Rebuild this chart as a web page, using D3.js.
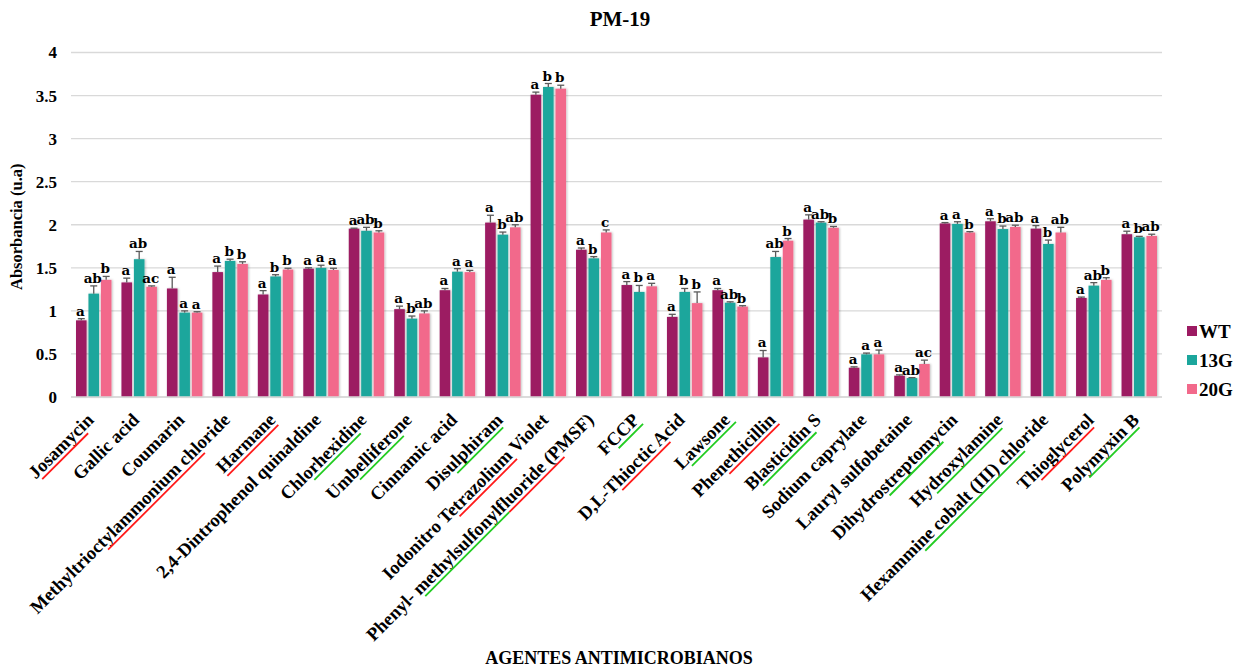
<!DOCTYPE html>
<html>
<head>
<meta charset="utf-8">
<script src="https://cdn.jsdelivr.net/npm/d3@7"></script>
<style>
  html, body { margin: 0; padding: 0; background: #fff; }
  svg { display: block; }
  text { font-family: "Liberation Serif", "Times New Roman", serif; font-weight: bold; fill: #000; }
  .sig { font-family: "DejaVu Serif", serif; font-size: 13.5px; }
</style>
</head>
<body>
<svg id="chart" width="1241" height="669"></svg>
<script>
// Antimicrobial agents tested on plate PM-19
const categories = [
  "Josamycin", "Gallic acid", "Coumarin", "Methyltrioctylammonium chloride", "Harmane",
  "2,4-Dintrophenol quinaldine", "Chlorhexidine", "Umbelliferone", "Cinnamic acid", "Disulphiram",
  "Iodonitro Tetrazolium Violet", "Phenyl- methylsulfonylfluoride (PMSF)", "FCCP", "D,L-Thioctic Acid",
  "Lawsone", "Phenethicillin", "Blasticidin S", "Sodium caprylate", "Lauryl sulfobetaine",
  "Dihydrostreptomycin", "Hydroxylamine", "Hexammine cobalt (III) chloride", "Thioglycerol", "Polymyxin B"
];

const seriesNames = ["WT", "13G", "20G"];

// Mean absorbance per strain
const wtValues  = [0.89, 1.33, 1.26, 1.45, 1.19, 1.49, 1.955, 1.02, 1.24, 2.025, 3.51, 1.71, 1.30, 0.93, 1.24, 0.46, 2.06, 0.34, 0.247, 2.015, 2.04, 1.955, 1.15, 1.89];
const g13Values = [1.20, 1.60, 0.98, 1.58, 1.40, 1.50, 1.93, 0.91, 1.455, 1.885, 3.60, 1.61, 1.22, 1.22, 1.095, 1.625, 2.025, 0.495, 0.22, 2.01, 1.95, 1.777, 1.293, 1.855];
const g20Values = [1.36, 1.28, 0.98, 1.545, 1.48, 1.475, 1.91, 0.97, 1.45, 1.97, 3.58, 1.91, 1.285, 1.09, 1.05, 1.815, 1.965, 0.495, 0.383, 1.91, 1.975, 1.91, 1.36, 1.87];

// Standard error (upper bar only)
const wtErrors  = [0.02, 0.05, 0.13, 0.07, 0.045, 0.01, 0.005, 0.035, 0.02, 0.085, 0.03, 0.02, 0.04, 0.03, 0.02, 0.08, 0.055, 0.01, 0.01, 0.01, 0.03, 0.035, 0.01, 0.035];
const g13Errors = [0.09, 0.09, 0.02, 0.02, 0.02, 0.03, 0.04, 0.03, 0.035, 0.03, 0.04, 0.02, 0.075, 0.04, 0.01, 0.065, 0.01, 0.015, 0.005, 0.025, 0.035, 0.045, 0.035, 0.01];
const g20Errors = [0.04, 0.01, 0.01, 0.025, 0.015, 0.02, 0.02, 0.03, 0.02, 0.03, 0.04, 0.03, 0.035, 0.13, 0.01, 0.025, 0.015, 0.05, 0.045, 0.01, 0.02, 0.06, 0.025, 0.02];

// Significance letters
const wtLetters  = ["a","a","a","a","a","a","a","a","a","a","a","a","a","a","a","a","a","a","a","a","a","a","a","a"];
const g13Letters = ["ab","ab","a","b","b","a","ab","b","a","b","b","b","b","b","ab","ab","ab","a","ab","a","b","b","ab","b"];
const g20Letters = ["b","ac","a","b","b","a","b","ab","a","ab","b","c","a","b","b","b","b","a","ac","b","ab","ab","b","ab"];

// Highlight strokes under category names: [category, start fraction, end fraction, colour]
const highlights = [
  ["Josamycin", 0.06, 0.84, "red"],
  ["Methyltrioctylammonium chloride", 0.35, 0.85, "red"],
  ["Harmane", 0.02, 0.98, "red"],
  ["Chlorhexidine", 0.30, 0.88, "green"],
  ["Umbelliferone", 0.30, 0.85, "green"],
  ["Disulphiram", 0.30, 0.95, "green"],
  ["Iodonitro Tetrazolium Violet", 0.42, 0.78, "red"],
  ["Phenyl- methylsulfonylfluoride (PMSF)", 0.22, 0.60, "green"],
  ["Phenyl- methylsulfonylfluoride (PMSF)", 0.60, 0.85, "red"],
  ["FCCP", 0.30, 1.0, "green"],
  ["D,L-Thioctic Acid", 0.34, 0.82, "red"],
  ["Lawsone", 0.15, 1.04, "green"],
  ["Phenethicillin", 0.35, 1.0, "red"],
  ["Blasticidin S", 0.12, 0.88, "green"],
  ["Dihydrostreptomycin", 0.40, 0.85, "green"],
  ["Hydroxylamine", 0.20, 0.95, "green"],
  ["Hexammine cobalt (III) chloride", 0.30, 0.85, "green"],
  ["Thioglycerol", 0.20, 0.95, "red"],
  ["Polymyxin B", 0.25, 0.95, "green"]
];

const yTicks = [0, 0.5, 1, 1.5, 2, 2.5, 3, 3.5, 4];
const colors = ["#9c1a62", "#1ba69c", "#f2698b"];

const svg = d3.select("#chart");

const plot = { left: 71, right: 1162, top: 52.5, bottom: 397 };

const x0 = d3.scaleBand().domain(categories).range([plot.left, plot.right]).paddingInner(0.22).paddingOuter(0.11);
const x1 = d3.scaleBand().domain(seriesNames).range([0, x0.bandwidth()]).paddingInner(0.15);
const y = d3.scaleLinear().domain([0, 4]).range([plot.bottom, plot.top]);
const color = d3.scaleOrdinal().domain(seriesNames).range(colors);

const defs = svg.append("defs");
const shadow = defs.append("filter").attr("id", "shadow").attr("x", "-30%").attr("y", "-10%").attr("width", "160%").attr("height", "120%");
shadow.append("feDropShadow").attr("dx", 1).attr("dy", 0).attr("stdDeviation", 0.8).attr("flood-color", "#000").attr("flood-opacity", 0.25);

// Gridlines
svg.append("g")
  .selectAll("line")
  .data(yTicks)
  .join("line")
  .attr("x1", plot.left).attr("x2", plot.right)
  .attr("y1", d => y(d)).attr("y2", d => y(d))
  .attr("stroke", "#d9d9d9").attr("stroke-width", 1.3);

// Y axis tick labels
const yAxis = d3.axisLeft(y).tickValues(yTicks).tickSize(0).tickPadding(0).tickFormat(d3.format("~g"));
svg.append("g")
  .attr("transform", `translate(${plot.left - 14},0)`)
  .call(yAxis)
  .call(g => g.select(".domain").remove())
  .selectAll("text")
  .style("font-family", "\"Liberation Serif\", serif")
  .style("font-weight", "bold")
  .style("font-size", "17px")
  .attr("fill", "#000");

// Rows of data per category
const rows = categories.map((c, i) => ({
  category: c,
  values: [
    { series: "WT",  value: wtValues[i],  err: wtErrors[i],  letter: wtLetters[i] },
    { series: "13G", value: g13Values[i], err: g13Errors[i], letter: g13Letters[i] },
    { series: "20G", value: g20Values[i], err: g20Errors[i], letter: g20Letters[i] }
  ]
}));

const groups = svg.append("g")
  .selectAll("g")
  .data(rows)
  .join("g")
  .attr("transform", d => `translate(${x0(d.category)},0)`);

groups.selectAll("rect")
  .data(d => d.values)
  .join("rect")
  .attr("x", d => x1(d.series))
  .attr("y", d => y(d.value))
  .attr("width", x1.bandwidth())
  .attr("height", d => y(0) - y(d.value))
  .attr("fill", d => color(d.series))
  .attr("filter", "url(#shadow)");

// Error bars
const eb = groups.selectAll("g.err")
  .data(d => d.values)
  .join("g")
  .attr("class", "err")
  .attr("stroke", "#5a5a5a")
  .attr("stroke-width", 1.3);
eb.append("line")
  .attr("x1", d => x1(d.series) + x1.bandwidth() / 2)
  .attr("x2", d => x1(d.series) + x1.bandwidth() / 2)
  .attr("y1", d => y(d.value))
  .attr("y2", d => y(d.value + d.err));
eb.append("line")
  .attr("x1", d => x1(d.series) + x1.bandwidth() / 2 - 3.5)
  .attr("x2", d => x1(d.series) + x1.bandwidth() / 2 + 3.5)
  .attr("y1", d => y(d.value + d.err))
  .attr("y2", d => y(d.value + d.err));

// Significance letters
groups.selectAll("text.sig")
  .data(d => d.values)
  .join("text")
  .attr("class", "sig")
  .attr("x", d => x1(d.series) + x1.bandwidth() / 2 - 1)
  .attr("y", d => y(d.value + d.err) - 3)
  .attr("text-anchor", "middle")
  .text(d => d.letter);

// Baseline
svg.append("line")
  .attr("x1", plot.left).attr("x2", plot.right)
  .attr("y1", y(0)).attr("y2", y(0))
  .attr("stroke", "#d9d9d9").attr("stroke-width", 1.5);

// Category labels
const labels = svg.append("g")
  .selectAll("g")
  .data(categories)
  .join("g")
  .attr("transform", d => `translate(${x0(d) + x0.bandwidth() / 2 + 1},${plot.bottom + 24}) rotate(-45)`);

labels.append("text")
  .attr("text-anchor", "end")
  .style("font-size", "18.5px")
  .text(d => d);

labels.each(function (name) {
  const g = d3.select(this);
  const len = g.select("text").node().getComputedTextLength();
  highlights.filter(h => h[0] === name).forEach(h => {
    g.append("line")
      .attr("x1", -len + h[1] * len)
      .attr("x2", -len + h[2] * len)
      .attr("y1", 4).attr("y2", 4)
      .attr("stroke", h[3] === "red" ? "#ff1a1a" : "#22cc22")
      .attr("stroke-width", 1.8);
  });
});

// Titles
svg.append("text")
  .attr("x", 620).attr("y", 26)
  .attr("text-anchor", "middle")
  .style("font-size", "21px")
  .text("PM-19");

svg.append("text")
  .attr("transform", `translate(22,${(plot.top + plot.bottom) / 2 + 2}) rotate(-90)`)
  .attr("text-anchor", "middle")
  .style("font-size", "16.5px")
  .text("Absorbancia (u.a)");

svg.append("text")
  .attr("x", 619).attr("y", 664)
  .attr("text-anchor", "middle")
  .style("font-size", "18px")
  .text("AGENTES ANTIMICROBIANOS");

// Legend
const legend = svg.append("g")
  .selectAll("g")
  .data(seriesNames)
  .join("g")
  .attr("transform", (d, i) => `translate(1187,${331 + i * 29})`);
legend.append("rect")
  .attr("x", 0).attr("y", -5)
  .attr("width", 10).attr("height", 10)
  .attr("fill", d => color(d));
legend.append("text")
  .attr("x", 12).attr("y", 7)
  .style("font-size", "19px")
  .text(d => d);
</script>
</body>
</html>
